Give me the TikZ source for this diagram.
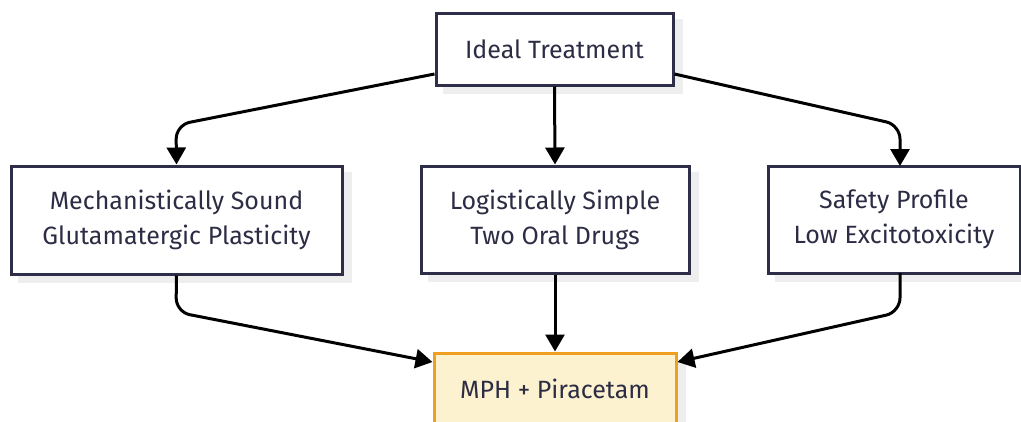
\documentclass[tikz,border=0pt]{standalone}
\usepackage{fontspec}
\setmainfont{Fira Sans}
\usetikzlibrary{arrows.meta,backgrounds}
\definecolor{ink}{HTML}{2C2C44}
\definecolor{boxline}{HTML}{2E2E48}
\definecolor{shadowgrey}{HTML}{EEEEEE}
\definecolor{goalfill}{HTML}{FCF2CF}
\definecolor{goalline}{HTML}{F0A021}
\begin{document}
\begin{tikzpicture}[x=1pt,y=-1pt,
  box/.style={draw=boxline,line width=3pt,fill=white,text=ink,align=center,
    font=\fontsize{25}{35}\selectfont,inner sep=0pt},
  goal/.style={box,draw=goalline,fill=goalfill},
  link/.style={draw=black,line width=3pt,rounded corners=14pt,
    -{Triangle[length=17pt,width=19pt]}}]
\useasboundingbox (0,0) rectangle (1021,421);
\node[box,minimum width=237pt,minimum height=72pt] (ideal) at (554.5,49) {Ideal Treatment};
\node[box,minimum width=331pt,minimum height=108pt] (mech) at (176.5,220) {Mechanistically Sound\\Glutamatergic Plasticity};
\node[box,minimum width=268pt,minimum height=107pt] (logi) at (555,219.5) {Logistically Simple\\Two Oral Drugs};
\node[box,minimum width=252pt,minimum height=107pt] (safe) at (894,219.5) {Safety Profile\\Low Excitotoxicity};
\node[goal,minimum width=242pt,minimum height=72pt] (mph) at (555,389) {MPH + Piracetam};
\begin{scope}[on background layer]
  \fill[white] (0,0) rectangle (1021,421);
  \foreach \n in {ideal,mech,logi,safe,mph}
    \fill[shadowgrey] ([shift={(8,7)}]\n.north west) rectangle ([shift={(8,7)}]\n.south east);
\end{scope}
\draw[link] (ideal.west |- 0,74) -- (176,125) -- (mech.north);
\draw[link] (ideal.south) -- (logi.north);
\draw[link] (ideal.east |- 0,74) -- (900,125) -- (900,166);
\draw[link] (mech.south) -- (176,312) -- (mph.west |- 0,362);
\draw[link] (logi.south) -- (mph.north);
\draw[link] (900,273) -- (900,312) -- (mph.east |- 0,362);
\end{tikzpicture}
\end{document}
